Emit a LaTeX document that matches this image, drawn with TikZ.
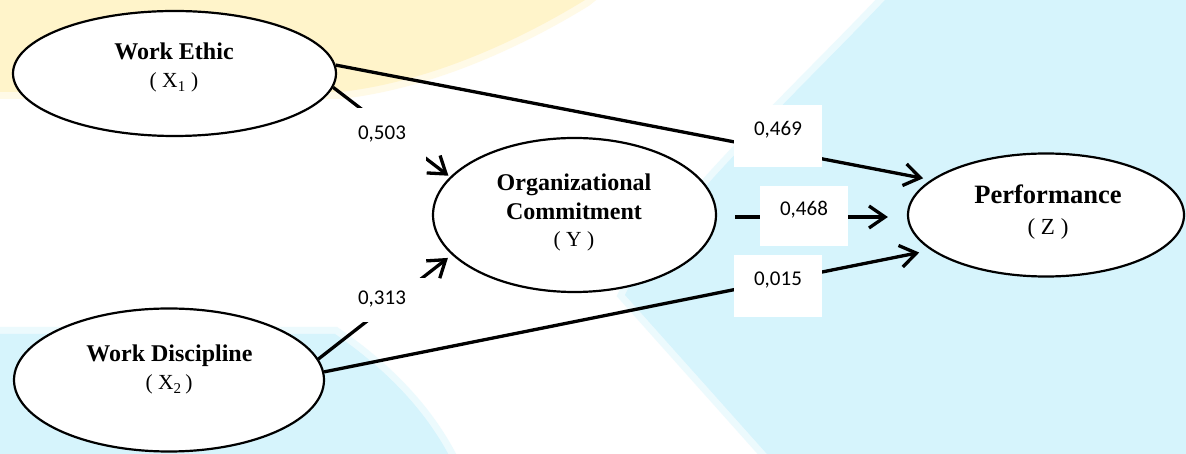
\documentclass[tikz,border=0pt]{standalone}
\usepackage{fontspec}
\setmainfont{Liberation Serif}
\newfontfamily\coeffont{Carlito}
\usetikzlibrary{shapes.geometric,arrows.meta}
\definecolor{bgyellow}{HTML}{FFF4CA}
\definecolor{bgblue}{HTML}{D6F4FC}
\begin{document}
\begin{tikzpicture}[x=1bp,y=-1bp,
  latent/.style={ellipse, draw=black, line width=2.2bp, fill=white, inner sep=0pt},
  ttl/.style={anchor=base, inner sep=0pt, font=\fontsize{24bp}{28bp}\selectfont\bfseries},
  sym/.style={anchor=base, inner sep=0pt, font=\fontsize{21.5bp}{25bp}\selectfont},
  conn/.style={line width=3.3bp, -{Straight Barb[length=16bp,width=22bp]}},
  coefbox/.style={fill=white, inner sep=0pt, minimum width=88bp, text height=13bp,
    font=\coeffont\fontsize{21bp}{25bp}\selectfont},
  softy/.style={fill=bgyellow, draw=bgyellow, draw opacity=0.45, line width=14bp},
  softb/.style={fill=bgblue, draw=bgblue, draw opacity=0.45, line width=14bp},
]
\useasboundingbox (0,0) rectangle (1186,454);
\fill[white] (0,0) rectangle (1186,454);
% background watermark
\begin{scope}
\clip (0,0) rectangle (1186,454);
\path[softy] (-20,-20) -- (610,-20) -- (585,0) .. controls (520,40) and (430,82) .. (340,92) -- (-20,92) -- cycle;
\path[softb] (-20,334) -- (335,334) .. controls (380,365) and (430,410) .. (458,474) -- (-20,474) -- cycle;
\path[softb] (890,-20) -- (1206,-20) -- (1206,474) -- (784,474) -- (767,454) -- (625,295)
  .. controls (660,220) and (800,90) .. (885,0) -- cycle;
\end{scope}

% latent variables
\node[latent, minimum width=323bp, minimum height=125bp] (we) at (174.5,73.5) {};
\node[latent, minimum width=310bp, minimum height=143bp] (wd) at (169,380) {};
\node[latent, minimum width=283bp, minimum height=154bp] (org) at (574.5,215) {};
\node[latent, minimum width=276bp, minimum height=123bp] (perf) at (1046,215) {};

\node[ttl] (wet) at (174,59.8) {Work Ethic};
\node[sym] (wes) at (174,88) {( X\textsubscript{1} )};
\node[ttl] (wdt) at (169.5,361.4) {Work Discipline};
\node[sym] (wds) at (169,390) {( X\textsubscript{2}\,)};
\node[ttl] (orgt1) at (574,191) {Organizational};
\node[ttl] (orgt2) at (574,219.5) {Commitment};
\node[sym] (orgs) at (574,247) {( Y )};
\node[ttl, font=\fontsize{26.5bp}{30bp}\selectfont\bfseries] (perft) at (1048,203.8) {Performance};
\node[sym, font=\fontsize{23bp}{27bp}\selectfont] (perfs) at (1048,234.3) {( Z )};

% paths
\draw[conn, shorten >=8bp] (we.3) -- (perf.163);
\draw[conn, shorten >=2bp] (we.-5.2) -- (org.163.4);
\draw[conn, shorten >=5bp] (wd.8.7) -- (org.198.1);
\draw[conn, shorten >=12bp] (wd.3) -- (perf.197.8);
\draw[conn, shorten <=18bp, shorten >=19bp] ([yshift=-2bp]org.east) -- ([yshift=-2bp]perf.west);

% coefficients
\node[coefbox, minimum height=62bp, text depth=14bp] (c469) at (778,136) {0,469};
\node[coefbox, minimum height=60bp, text depth=13bp] (c468) at (804,216) {0,468};
\node[coefbox, minimum height=62bp, text depth=14bp] (c015) at (778,286) {0,015};
\node[coefbox, minimum height=54bp, text depth=4bp] (c503) at (382,135) {0,503};
\node[coefbox, minimum height=44bp, text depth=4bp] (c313) at (382,300) {0,313};
\end{tikzpicture}
\end{document}
